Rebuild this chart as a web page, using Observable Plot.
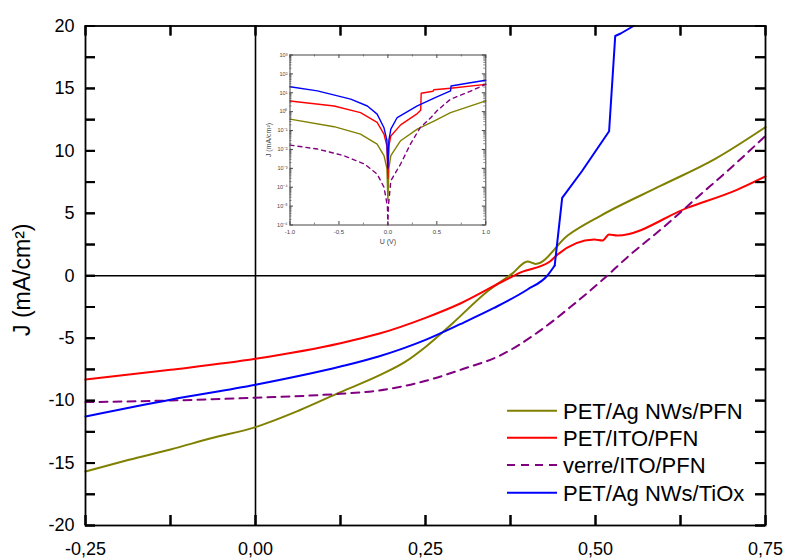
<!DOCTYPE html>
<html><head><meta charset="utf-8">
<script src="https://cdn.jsdelivr.net/npm/d3@7"></script>
<script src="https://cdn.jsdelivr.net/npm/@observablehq/plot@0.6"></script>
<style>
body{margin:0;background:#fff;font-family:"Liberation Sans",Arial,sans-serif;}
#wrap{position:relative;width:785px;height:560px;overflow:hidden;}
.overlay{position:absolute;pointer-events:none;}
</style></head><body>
<div id="wrap"></div>
<script>
// ---------- main chart data (U in V, J in mA/cm²) ----------
const seriesNames = ["PET/Ag NWs/PFN", "PET/ITO/PFN", "verre/ITO/PFN", "PET/Ag NWs/TiOx"];
const seriesColors = ["#808000", "#ff0000", "#800080", "#0000ff"];
const seriesDash = [null, null, "8,6", null];

const agPfn = [[-0.25,-15.67],[-0.186,-14.74],[-0.125,-13.91],[-0.064,-13.0],[0,-12.12],[0.064,-10.79],[0.125,-9.32],[0.181,-8.0],[0.22,-6.9],[0.25,-5.7],[0.29,-3.8],[0.34,-1.3],[0.378,0.19],[0.4,1.14],[0.412,0.95],[0.459,3.22],[0.508,4.82],[0.597,7.23],[0.676,9.36],[0.75,11.9]];
const itoPfn = [[-0.25,-8.31],[-0.125,-7.53],[0,-6.65],[0.125,-5.4],[0.181,-4.65],[0.25,-3.37],[0.302,-2.2],[0.366,-0.38],[0.391,0.29],[0.433,1.14],[0.444,1.69],[0.498,2.9],[0.51,2.82],[0.52,3.3],[0.532,3.22],[0.635,5.44],[0.708,6.88],[0.75,7.95]];
const verreIto = [[-0.25,-10.12],[-0.125,-9.99],[0,-9.77],[0.125,-9.45],[0.181,-9.19],[0.252,-8.39],[0.306,-7.45],[0.36,-6.38],[0.412,-4.65],[0.463,-2.51],[0.51,-0.35],[0.547,1.49],[0.6,3.89],[0.65,6.29],[0.703,8.83],[0.75,11.2]];
const agTiox = [[-0.25,-11.27],[-0.125,-9.93],[0,-8.73],[0.125,-7.27],[0.181,-6.46],[0.25,-5.13],[0.3,-3.9],[0.35,-2.6],[0.4,-1.1],[0.429,0],[0.44,0.82],[0.451,6.24],[0.48,8.37],[0.52,11.57],[0.529,19.2],[0.537,19.4],[0.556,20]];
const tioxKnee = 0.44; // smooth below, straight segments above

const xTicks = [-0.25, 0, 0.25, 0.5, 0.75];
const xMinorTicks = [-0.125, 0.125, 0.375, 0.625];
const yTicks = [-20, -15, -10, -5, 0, 5, 10, 15, 20];
const yMinorTicks = [-17.5, -12.5, -7.5, -2.5, 2.5, 7.5, 12.5, 17.5];
const yTitle = "J (mA/cm²)";

// ---------- inset data (|J| on log scale) ----------
const inAgPfn = [[-1,0.4],[-0.55,0.16],[-0.28,0.065],[-0.11,0.019],[-0.04,0.0047],[-0.01,0.001],[0,0.00002],[0.01,0.001],[0.03,0.0047],[0.13,0.029],[0.3,0.12],[0.47,0.32],[0.64,0.89],[1,3.7]];
const inItoPfn = [[-1,3.7],[-0.55,2.0],[-0.28,0.89],[-0.11,0.27],[-0.04,0.065],[-0.01,0.015],[0,0.0003],[0.01,0.015],[0.03,0.052],[0.13,0.2],[0.3,0.79],[0.335,1.2],[0.34,9.5],[0.46,12],[0.47,14.5],[0.64,17.4],[1,28]];
const inVerreIto = [[-1,0.017],[-0.72,0.0105],[-0.45,0.0047],[-0.24,0.0017],[-0.11,0.0005],[-0.04,0.0001],[-0.005,0.00001],[0,0.000001],[0.005,0.00001],[0.03,0.00022],[0.13,0.0017],[0.23,0.019],[0.33,0.145],[0.44,0.49],[0.5,1.1],[0.64,4.6],[0.81,10.2],[1,28]];
const inAgTiox = [[-1,21],[-0.72,12.6],[-0.38,4.6],[-0.21,2.0],[-0.11,0.74],[-0.04,0.14],[-0.01,0.03],[0,0.001],[0.01,0.03],[0.03,0.12],[0.095,0.49],[0.3,2.0],[0.5,6.0],[0.64,12.6],[0.645,23],[0.81,32],[1,46]];
const inXTicks = [-1, -0.5, 0, 0.5, 1];
const inXMinor = [-0.75, -0.25, 0.25, 0.75];
const inYTicks = [1e-6, 1e-5, 1e-4, 1e-3, 1e-2, 1e-1, 1, 1e1, 1e2, 1e3];
const inXTitle = "U (V)";

const mainSeries = [agPfn, itoPfn, verreIto];
const insetSeries = [inAgPfn, inItoPfn, inVerreIto, inAgTiox];

const font = "'Liberation Sans', Arial, sans-serif";
const commaFmt = d => d.toFixed(2).replace(".", ",");
const wrap = document.getElementById("wrap");

// tick marks drawn inward with rules spanning only a few pixels from the frame edge
function inwardTicks(xVals, yVals, plotW, plotH, len, sw, color) {
  return [
    Plot.ruleX(xVals, {x: d => d, insetTop: plotH - len, stroke: color, strokeWidth: sw}),
    Plot.ruleX(xVals, {x: d => d, insetBottom: plotH - len, stroke: color, strokeWidth: sw}),
    Plot.ruleY(yVals, {y: d => d, insetRight: plotW - len, stroke: color, strokeWidth: sw}),
    Plot.ruleY(yVals, {y: d => d, insetLeft: plotW - len, stroke: color, strokeWidth: sw})
  ];
}
function place(node, left, top) {
  const div = document.createElement("div");
  div.className = "overlay";
  div.style.left = left + "px";
  div.style.top = top + "px";
  div.appendChild(node);
  wrap.appendChild(div);
}

const W = 785, H = 560, ML = 85, MR = 20, MT = 25.5, MB = 35;
const lineMarks = mainSeries.map((s, i) => Plot.line(s, {
  x: d => d[0], y: d => d[1], stroke: seriesColors[i], strokeWidth: 2,
  strokeDasharray: seriesDash[i], curve: "monotone-x"
}));
lineMarks.push(
  Plot.line(agTiox.filter(d => d[0] <= tioxKnee), {x: d => d[0], y: d => d[1], stroke: seriesColors[3], strokeWidth: 2, curve: "monotone-x"}),
  Plot.line(agTiox.filter(d => d[0] >= tioxKnee), {x: d => d[0], y: d => d[1], stroke: seriesColors[3], strokeWidth: 2, curve: "linear"})
);

const main = Plot.plot({
  width: W, height: H,
  marginLeft: ML, marginRight: MR, marginTop: MT, marginBottom: MB,
  x: {domain: [-0.25, 0.75], label: null},
  y: {domain: [-20, 20], label: null},
  style: {fontFamily: font, fontSize: "18px", color: "black", background: "white"},
  marks: [
    Plot.ruleX([0], {stroke: "black", strokeWidth: 1.6}),
    Plot.ruleY([0], {stroke: "black", strokeWidth: 1.6}),
    ...lineMarks,
    ...inwardTicks(xTicks.concat(xMinorTicks), yTicks.concat(yMinorTicks), W - ML - MR, H - MT - MB, 10, 2, "black"),
    Plot.frame({stroke: "black", strokeWidth: 1.8}),
    Plot.axisX({ticks: xTicks, anchor: "bottom", tickSize: 0, tickPadding: 17, tickFormat: commaFmt, fontSize: 18, label: null}),
    Plot.axisY({ticks: yTicks, anchor: "left", tickSize: 0, tickPadding: 11, tickFormat: d => String(d), fontSize: 18, label: null}),
    Plot.text([yTitle], {text: d => d, frameAnchor: "left", textAnchor: "middle", dx: -63, dy: 4, rotate: -90, fontSize: 23, fill: "black"})
  ]
});
wrap.appendChild(main);

// main tick marks again on a transparent layer with the same scales
const mainTicks = Plot.plot({
  width: W, height: H,
  marginLeft: ML, marginRight: MR, marginTop: MT, marginBottom: MB,
  x: {domain: [-0.25, 0.75], axis: null},
  y: {domain: [-20, 20], axis: null},
  style: {background: "transparent", color: "black"},
  marks: inwardTicks(xTicks.concat(xMinorTicks), yTicks.concat(yMinorTicks), W - ML - MR, H - MT - MB, 10, 2, "black")
});
place(mainTicks, 0, 0);

// ---------- inset ----------
const sup = {"-":"⁻","0":"⁰","1":"¹","2":"²","3":"³","4":"⁴","5":"⁵","6":"⁶","7":"⁷","8":"⁸","9":"⁹"};
const logFmt = d => "10" + String(Math.round(Math.log10(d))).split("").map(c => sup[c]).join("");
const inYMinor = [];
for (const e of [-6,-5,-4,-3,-2,-1,0,1,2]) for (const m of [2,3,4,5,6,7,8,9]) inYMinor.push(m * Math.pow(10, e));

const IW = 250, IH = 215, IML = 39.5, IMR = 14.7, IMT = 14.5, IMB = 30.5;
const insetLines = insetSeries.map((s, i) => Plot.line(s, {
  x: d => d[0], y: d => d[1], stroke: seriesColors[i], strokeWidth: 1.4,
  strokeDasharray: seriesDash[i] ? "4,4" : null
}));

const inset = Plot.plot({
  width: IW, height: IH,
  marginLeft: IML, marginRight: IMR, marginTop: IMT, marginBottom: IMB,
  x: {domain: [-1, 1], label: null},
  y: {type: "log", domain: [1e-6, 1e3], label: null},
  style: {fontFamily: font, fontSize: "6px", color: "#444", background: "transparent"},
  marks: [
    ...insetLines,
    ...inwardTicks(inXTicks, inYTicks, IW - IML - IMR, IH - IMT - IMB, 3.5, 1, "#444"),
    ...inwardTicks(inXMinor, inYMinor, IW - IML - IMR, IH - IMT - IMB, 2, 0.7, "#555"),
    Plot.frame({stroke: "#444", strokeWidth: 1}),
    Plot.axisX({ticks: inXTicks, anchor: "bottom", tickSize: 0, tickPadding: 5, tickFormat: d => d.toFixed(1), fontSize: 6, label: null}),
    Plot.axisY({ticks: inYTicks, anchor: "left", tickSize: 0, tickPadding: 2.5, tickFormat: logFmt, fontSize: 5.5, label: null}),
    Plot.text([yTitle], {text: d => d, frameAnchor: "left", textAnchor: "middle", dx: -21, rotate: -90, fontSize: 7, fill: "#444"}),
    Plot.text([inXTitle], {text: d => d, frameAnchor: "bottom", textAnchor: "middle", dy: 19, fontSize: 7, fill: "#444"})
  ]
});
place(inset, 250, 40);

// ---------- legend ----------
const legendRowY = [410.7, 437.7, 465, 492.7];
const leg = d3.create("svg").attr("width", W).attr("height", H);
seriesNames.forEach((name, i) => {
  const g = leg.append("g");
  g.append("line").attr("x1", 507).attr("x2", 557).attr("y1", legendRowY[i]).attr("y2", legendRowY[i])
    .attr("stroke", seriesColors[i]).attr("stroke-width", 2).attr("stroke-dasharray", seriesDash[i]);
  g.append("text").attr("x", 563).attr("y", legendRowY[i]).attr("dy", "0.36em")
    .attr("font-family", font).attr("font-size", 22).attr("fill", "black").text(name);
});
place(leg.node(), 0, 0);
</script>
</body></html>
